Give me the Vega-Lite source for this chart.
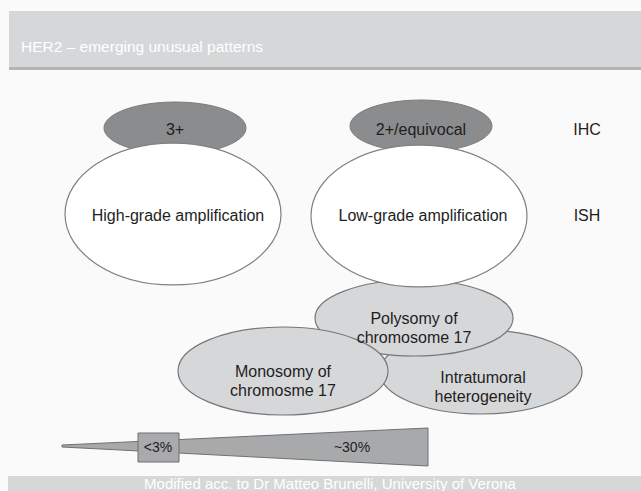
{
  "$schema": "https://vega.github.io/schema/vega-lite/v6.json",
  "width": 641,
  "height": 491,
  "padding": 0,
  "autosize": {"type": "none"},
  "background": "#fafafa",
  "config": {"view": {"stroke": null}, "font": "Liberation Sans"},
  "datasets": {
    "ellipses": [
      {"name": "3+", "kind": "dark", "x": 175, "y": 128},
      {"name": "2+/equivocal", "kind": "dark", "x": 421, "y": 126},
      {"name": "High-grade amplification", "kind": "white", "x": 173, "y": 214},
      {"name": "Low-grade amplification", "kind": "white", "x": 419, "y": 216},
      {"name": "Polysomy of chromosome 17", "kind": "poly", "x": 414, "y": 318},
      {"name": "Monosomy of chromosme 17", "kind": "mono", "x": 283, "y": 371},
      {"name": "Intratumoral heterogeneity", "kind": "intra", "x": 481, "y": 372}
    ],
    "labels": [
      {"text": "3+", "x": 175, "y": 130},
      {"text": "2+/equivocal", "x": 421, "y": 130},
      {"text": "IHC", "x": 587, "y": 130},
      {"text": "High-grade amplification", "x": 178, "y": 216},
      {"text": "Low-grade amplification", "x": 423, "y": 216},
      {"text": "ISH", "x": 587, "y": 216},
      {"text": "Polysomy of\nchromosome 17", "x": 414, "y": 319},
      {"text": "Monosomy of\nchromosme 17", "x": 283, "y": 372},
      {"text": "Intratumoral\nheterogeneity", "x": 483, "y": 378}
    ],
    "wedge": [
      {"x": 62, "y": 445, "y2": 447},
      {"x": 428, "y": 428, "y2": 466}
    ],
    "wedgeLabels": [
      {"text": "<3%", "x": 158, "y": 448},
      {"text": "~30%", "x": 352, "y": 448}
    ]
  },
  "layer": [
    {
      "data": {"values": [{}]},
      "mark": {"type": "rect", "fill": "#d6d7d9"},
      "encoding": {
        "x": {"datum": 9, "type": "quantitative", "scale": {"domain": [0, 641], "nice": false, "zero": false}, "axis": null},
        "x2": {"datum": 641},
        "y": {"datum": 11, "type": "quantitative", "scale": {"domain": [0, 491], "nice": false, "zero": false, "reverse": true}, "axis": null},
        "y2": {"datum": 67}
      }
    },
    {
      "data": {"values": [{}]},
      "mark": {"type": "rect", "fill": "#b3b4b6"},
      "encoding": {
        "x": {"datum": 9, "type": "quantitative", "scale": {"domain": [0, 641], "nice": false, "zero": false}, "axis": null},
        "x2": {"datum": 641},
        "y": {"datum": 67, "type": "quantitative", "scale": {"domain": [0, 491], "nice": false, "zero": false, "reverse": true}, "axis": null},
        "y2": {"datum": 70}
      }
    },
    {
      "data": {"values": [{}]},
      "mark": {"type": "rect", "fill": "#d6d7d9"},
      "encoding": {
        "x": {"datum": 8, "type": "quantitative", "scale": {"domain": [0, 641], "nice": false, "zero": false}, "axis": null},
        "x2": {"datum": 641},
        "y": {"datum": 476, "type": "quantitative", "scale": {"domain": [0, 491], "nice": false, "zero": false, "reverse": true}, "axis": null},
        "y2": {"datum": 491}
      }
    },
    {
      "data": {"values": [{"text": "HER2 – emerging unusual patterns", "x": 21, "y": 47}]},
      "mark": {"type": "text", "align": "left", "baseline": "middle", "fontSize": 15.5, "color": "#ffffff"},
      "encoding": {
        "x": {"field": "x", "type": "quantitative", "scale": {"domain": [0, 641], "nice": false, "zero": false}, "axis": null},
        "y": {"field": "y", "type": "quantitative", "scale": {"domain": [0, 491], "nice": false, "zero": false, "reverse": true}, "axis": null},
        "text": {"field": "text"}
      }
    },
    {
      "data": {"values": [{"text": "Modified acc. to Dr Matteo Brunelli, University of Verona", "x": 330, "y": 484}]},
      "mark": {"type": "text", "align": "center", "baseline": "middle", "fontSize": 15, "color": "#ffffff"},
      "encoding": {
        "x": {"field": "x", "type": "quantitative", "scale": {"domain": [0, 641], "nice": false, "zero": false}, "axis": null},
        "y": {"field": "y", "type": "quantitative", "scale": {"domain": [0, 491], "nice": false, "zero": false, "reverse": true}, "axis": null},
        "text": {"field": "text"}
      }
    },
    {
      "data": {"name": "ellipses"},
      "transform": [{"filter": "datum.kind === 'dark'"}],
      "mark": {"type": "point", "filled": true, "fill": "#8b8c8e", "stroke": "#7a7a7a", "strokeWidth": 1, "opacity": 1, "fillOpacity": 1, "size": 20164, "shape": "M -1 0 A 1 0.366 0 1 1 1 0 A 1 0.366 0 1 1 -1 0 Z"},
      "encoding": {
        "x": {"field": "x", "type": "quantitative", "scale": {"domain": [0, 641], "nice": false, "zero": false}, "axis": null},
        "y": {"field": "y", "type": "quantitative", "scale": {"domain": [0, 491], "nice": false, "zero": false, "reverse": true}, "axis": null}
      }
    },
    {
      "data": {"name": "ellipses"},
      "transform": [{"filter": "datum.kind === 'intra'"}],
      "mark": {"type": "point", "filled": true, "fill": "#d6d7d9", "stroke": "#777777", "strokeWidth": 1.2, "opacity": 1, "fillOpacity": 1, "size": 40804, "shape": "M -1 0 A 1 0.416 0 1 1 1 0 A 1 0.416 0 1 1 -1 0 Z"},
      "encoding": {
        "x": {"field": "x", "type": "quantitative", "scale": {"domain": [0, 641], "nice": false, "zero": false}, "axis": null},
        "y": {"field": "y", "type": "quantitative", "scale": {"domain": [0, 491], "nice": false, "zero": false, "reverse": true}, "axis": null}
      }
    },
    {
      "data": {"name": "ellipses"},
      "transform": [{"filter": "datum.kind === 'poly'"}],
      "mark": {"type": "point", "filled": true, "fill": "#d6d7d9", "stroke": "#777777", "strokeWidth": 1.2, "opacity": 1, "fillOpacity": 1, "size": 39204, "shape": "M -1 0 A 1 0.384 0 1 1 1 0 A 1 0.384 0 1 1 -1 0 Z"},
      "encoding": {
        "x": {"field": "x", "type": "quantitative", "scale": {"domain": [0, 641], "nice": false, "zero": false}, "axis": null},
        "y": {"field": "y", "type": "quantitative", "scale": {"domain": [0, 491], "nice": false, "zero": false, "reverse": true}, "axis": null}
      }
    },
    {
      "data": {"name": "ellipses"},
      "transform": [{"filter": "datum.kind === 'mono'"}],
      "mark": {"type": "point", "filled": true, "fill": "#d6d7d9", "stroke": "#777777", "strokeWidth": 1.2, "opacity": 1, "fillOpacity": 1, "size": 44100, "shape": "M -1 0 A 1 0.419 0 1 1 1 0 A 1 0.419 0 1 1 -1 0 Z"},
      "encoding": {
        "x": {"field": "x", "type": "quantitative", "scale": {"domain": [0, 641], "nice": false, "zero": false}, "axis": null},
        "y": {"field": "y", "type": "quantitative", "scale": {"domain": [0, 491], "nice": false, "zero": false, "reverse": true}, "axis": null}
      }
    },
    {
      "data": {"name": "ellipses"},
      "transform": [{"filter": "datum.kind === 'white'"}],
      "mark": {"type": "point", "filled": true, "fill": "#ffffff", "stroke": "#808080", "strokeWidth": 1.2, "opacity": 1, "fillOpacity": 1, "size": 46656, "shape": "M -1 0 A 1 0.657 0 1 1 1 0 A 1 0.657 0 1 1 -1 0 Z"},
      "encoding": {
        "x": {"field": "x", "type": "quantitative", "scale": {"domain": [0, 641], "nice": false, "zero": false}, "axis": null},
        "y": {"field": "y", "type": "quantitative", "scale": {"domain": [0, 491], "nice": false, "zero": false, "reverse": true}, "axis": null}
      }
    },
    {
      "data": {"name": "labels"},
      "mark": {"type": "text", "align": "center", "baseline": "middle", "fontSize": 16, "lineHeight": 19, "lineBreak": "\n", "color": "#1e1e1e"},
      "encoding": {
        "x": {"field": "x", "type": "quantitative", "scale": {"domain": [0, 641], "nice": false, "zero": false}, "axis": null},
        "y": {"field": "y", "type": "quantitative", "scale": {"domain": [0, 491], "nice": false, "zero": false, "reverse": true}, "axis": null},
        "text": {"field": "text"}
      }
    },
    {
      "data": {"name": "wedge"},
      "mark": {"type": "area", "fill": "#a8a9ab", "stroke": "#707070", "strokeWidth": 1, "interpolate": "linear"},
      "encoding": {
        "x": {"field": "x", "type": "quantitative", "scale": {"domain": [0, 641], "nice": false, "zero": false}, "axis": null},
        "y": {"field": "y", "type": "quantitative", "scale": {"domain": [0, 491], "nice": false, "zero": false, "reverse": true}, "axis": null},
        "y2": {"field": "y2"}
      }
    },
    {
      "data": {"values": [{}]},
      "mark": {"type": "rect", "fill": "#a9aaac", "stroke": "#6e6e6e", "strokeWidth": 1},
      "encoding": {
        "x": {"datum": 138, "type": "quantitative", "scale": {"domain": [0, 641], "nice": false, "zero": false}, "axis": null},
        "x2": {"datum": 179},
        "y": {"datum": 433, "type": "quantitative", "scale": {"domain": [0, 491], "nice": false, "zero": false, "reverse": true}, "axis": null},
        "y2": {"datum": 462}
      }
    },
    {
      "data": {"name": "wedgeLabels"},
      "mark": {"type": "text", "align": "center", "baseline": "middle", "fontSize": 14, "color": "#1e1e1e"},
      "encoding": {
        "x": {"field": "x", "type": "quantitative", "scale": {"domain": [0, 641], "nice": false, "zero": false}, "axis": null},
        "y": {"field": "y", "type": "quantitative", "scale": {"domain": [0, 491], "nice": false, "zero": false, "reverse": true}, "axis": null},
        "text": {"field": "text"}
      }
    }
  ]
}
